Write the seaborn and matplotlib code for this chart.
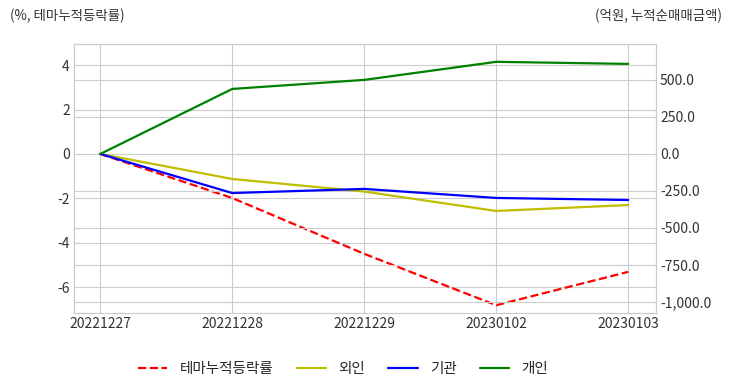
import pandas as pd
import seaborn as sns
import numpy as np
import matplotlib.pyplot as plt
from matplotlib.ticker import FuncFormatter

dates = ['20221227', '20221228', '20221229', '20230102', '20230103']
theme_rate = [0.0, -1.98, -4.49, -6.80, -5.30]
foreign = [0.0, -169, -254, -385, -345]
institution = [0.0, -264, -236, -297, -311]
individual = [0.0, 439, 500, 622, 608]

sns.set_style('whitegrid')
plt.rcParams['font.family'] = ['Noto Sans CJK KR', 'DejaVu Sans']
plt.rcParams['axes.unicode_minus'] = False

x = np.arange(len(dates))
data = pd.DataFrame({'x': x, 'theme': theme_rate, 'foreign': foreign,
                     'inst': institution, 'indiv': individual})

fig = plt.figure(figsize=(7.32, 3.92), dpi=100)
ax = fig.add_axes([0.101, 0.2015, 0.795, 0.6865])
ax2 = ax.twinx()

sns.lineplot(x='x', y='theme', data=data, ax=ax, color='r', linestyle='--', lw=1.6, label='테마누적등락률', legend=False)
sns.lineplot(x='x', y='foreign', data=data, ax=ax2, color='y', lw=1.6, label='외인', legend=False)
sns.lineplot(x='x', y='inst', data=data, ax=ax2, color='b', lw=1.6, label='기관', legend=False)
sns.lineplot(x='x', y='indiv', data=data, ax=ax2, color='g', lw=1.6, label='개인', legend=False)

ax.set_xlim(-0.2, 4.21)
ax.set_ylim(-7.15, 4.95)
ax.set_yticks([-6, -4, -2, 0, 2, 4])
ax2.set_ylim(-1074, 743)
ax2.set_yticks([-1000, -750, -500, -250, 0, 250, 500])
ax2.yaxis.set_major_formatter(FuncFormatter(lambda v, p: '{:,.1f}'.format(v)))

ax.set_xticks(x)
ax.set_xticklabels(dates)
for a in (ax, ax2):
    a.set_xlabel('')
    a.set_ylabel('')
    a.tick_params(labelsize=10, colors='#333333', length=0, pad=3)
    for s in a.spines.values():
        s.set_color('#cccccc')
ax2.grid(True, color='#cccccc', lw=0.8)
ax.grid(True, color='#cccccc', lw=0.8)

fig.text(0.013, 0.96, '(%, 테마누적등락률)', fontsize=9.7, color='#333333', va='center')
fig.text(0.987, 0.96, '(억원, 누적순매매금액)', fontsize=9.7, color='#333333', va='center', ha='right')

h1, l1 = ax.get_legend_handles_labels()
h2, l2 = ax2.get_legend_handles_labels()
fig.legend(h1 + h2, l1 + l2, loc='center', bbox_to_anchor=(0.469, 0.059), ncol=4,
           frameon=False, fontsize=10.5, handlelength=2.0, handletextpad=0.85, columnspacing=1.6)

fig.savefig('out.png', dpi=100)
